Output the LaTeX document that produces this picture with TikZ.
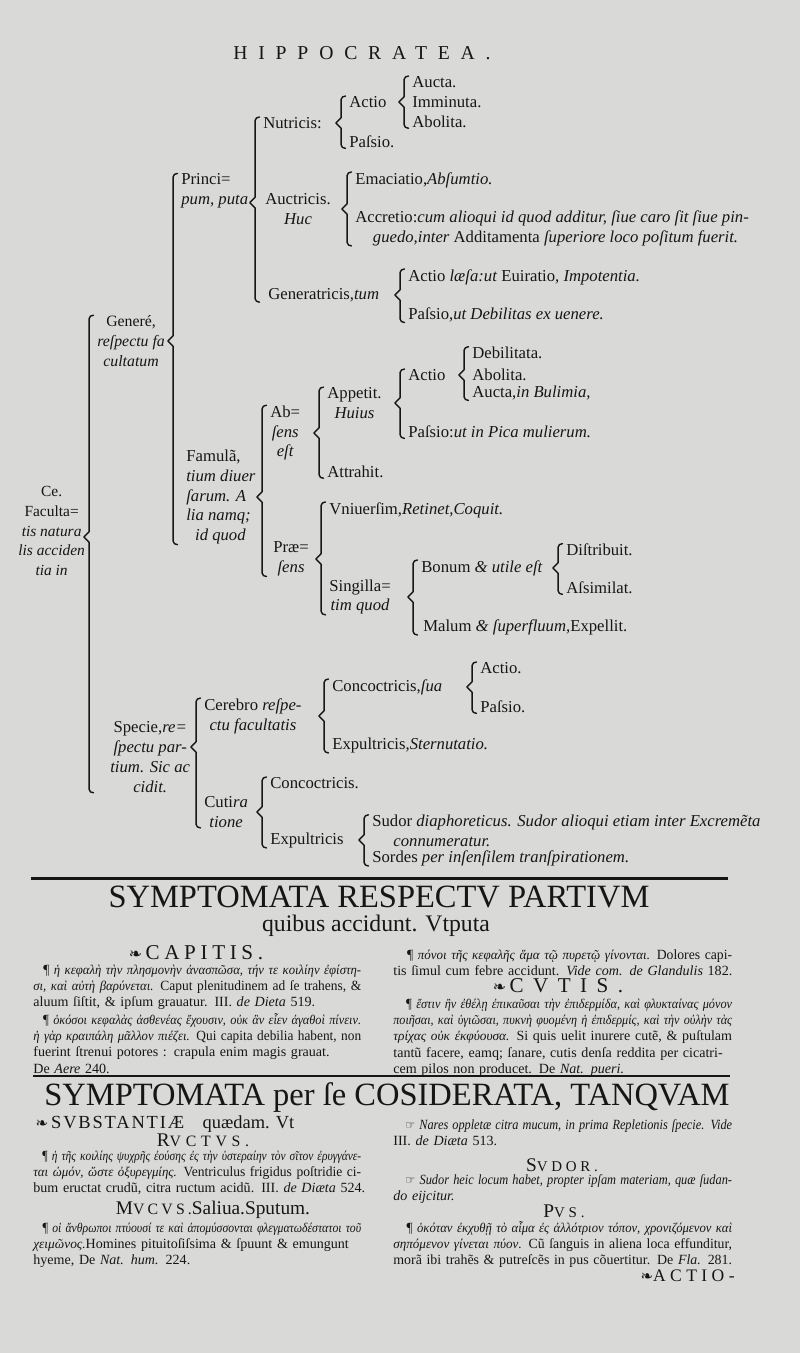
\documentclass[tikz,border=0pt]{standalone}
\usepackage{fontspec}
\usepackage{graphicx}
\setmainfont{Liberation Serif}
\newfontfamily\orn{DejaVu Sans}
\usetikzlibrary{calc}
\definecolor{paper}{HTML}{D9D9D7}
\definecolor{ink}{HTML}{161616}
\newcommand\treefont{\fontsize{9.5}{11.3}\selectfont}
\newcommand\bodyfont{\fontsize{8}{9.3}\selectfont}
\newcommand\gr[1]{{\itshape\fontsize{7.6}{9.3}\selectfont #1}}
\newlength\colL \setlength\colL{186.6pt}
\newlength\colR \setlength\colR{192.8pt}
\newsavebox\jlbox
% one justified line of a column, squeezed when it is too long
\newcommand\jl[2]{\sbox\jlbox{#2}%
  \ifdim\wd\jlbox>#1\resizebox{#1}{\height}{\usebox\jlbox}\else\makebox[#1][s]{#2}\fi}
% bracket: top child, bottom child, point of the cusp
\newcommand\brk[3]{%
  \draw[brk] let \p1=(#1.north west), \p2=(#2.south west), \p3=(#3) in
    (\x1-2pt,\y1) to[out=180,in=90] (\x1-4.5pt,\y1-2pt) -- (\x1-4.5pt,\y3+3pt)
    -- (\x1-7.5pt,\y3) -- (\x1-4.5pt,\y3-3pt) -- (\x1-4.5pt,\y2+2pt)
    to[out=-90,in=180] (\x1-2pt,\y2);}
\tikzset{
  lbl/.style={anchor=west,inner sep=0pt,font=\treefont,text=ink},
  lbls/.style={lbl,align=center},
  lbll/.style={lbl,align=left},
  brk/.style={draw=ink,line width=0.8pt,line join=round,line cap=round},
  para/.style={anchor=base west,inner sep=0pt,font=\bodyfont,text=ink,align=left,text width=400pt},
  head/.style={anchor=center,inner sep=0pt,text=ink},
  rule/.style={draw=ink,line width=#1}
}
\begin{document}
\begin{tikzpicture}[x=0.02cm,y=-0.02cm]
\fill[paper] (0,0) rectangle (800,1353);
\useasboundingbox (0,0) rectangle (800,1353);

\node[head,font=\fontsize{11.2}{13}\selectfont\addfontfeature{LetterSpace=55}] (title) at (362,53) {HIPPOCRATEA.};

% the tree
\node[lbls,font=\fontsize{8.8}{11.3}\selectfont] (root) at (18,531) {Ce.\\Faculta=\\\textit{tis natura}\\\textit{lis acciden}\\\textit{tia in}};
\node[lbls,font=\fontsize{9}{11.3}\selectfont] (gen) at (97,341) {Generé,\\\textit{reſpectu fa}\\\textit{cultatum}};
\node[lbls] (spec) at (110,757) {Specie,\textit{re=}\\\textit{ſpectu par-}\\\textit{tium. Sic ac}\\\textit{cidit.}};
\node[lbll] (princ) at (181,191) {Princi=\\\textit{pum, puta}};
\node[lbll] (famul) at (186,497) {Famulã,\\\textit{tium diuer}\\\textit{ſarum. A}\\\textit{lia namq;}\\\hspace*{5pt}\textit{id quod}};
\node[lbl] (nutr) at (263,123) {Nutricis:};
\node[lbls] (auct) at (265,209) {Auctricis.\\\textit{Huc}};
\node[lbl] (gener) at (268,295) {Generatricis,\textit{tum}};
\node[lbl] (actio1) at (349,102) {Actio};
\node[lbl] (pasio1) at (349,142) {Paſsio.};
\node[lbl] (aucta1) at (412,82) {Aucta.};
\node[lbl] (immin) at (412,102) {Imminuta.};
\node[lbl] (abol1) at (412,122) {Abolita.};
\node[lbl] (emac) at (355,180) {Emaciatio,\textit{Abſumtio.}};
\node[lbll] (accr) at (355,228) {Accretio:\textit{cum alioqui id quod additur, ſiue caro ſit ſiue pin-}\\\hspace*{10pt}\textit{guedo,inter} Additamenta \textit{ſuperiore loco poſitum fuerit.}};
\node[lbl] (lesa) at (408,277) {Actio \textit{læſa:ut} Euiratio, \textit{Impotentia.}};
\node[lbl] (pasio4) at (408,315) {Paſsio,\textit{ut Debilitas ex uenere.}};
\node[lbls] (absens) at (270,433) {Ab=\\\textit{ſens}\\\textit{eſt}};
\node[lbls] (praes) at (273,559) {Præ=\\\textit{ſens}};
\node[lbls] (appet) at (327,403) {Appetit.\\\textit{Huius}};
\node[lbl] (attr) at (327,472) {Attrahit.};
\node[lbl] (actio2) at (408,375) {Actio};
\node[lbl] (pasio2) at (408,432) {Paſsio:\textit{ut in Pica mulierum.}};
\node[lbl] (debil) at (472,353) {Debilitata.};
\node[lbl] (abol2) at (472,375) {Abolita.};
\node[lbl] (aucta2) at (472,393) {Aucta,\textit{in Bulimia,}};
\node[lbl] (vniu) at (329,510) {Vniuerſim,\textit{Retinet,Coquit.}};
\node[lbls] (singil) at (329,597) {Singilla=\\\textit{tim quod}};
\node[lbl] (bonum) at (421,568) {Bonum \textit{\& utile eſt}};
\node[lbl] (malum) at (423,627) {Malum \textit{\& ſuperfluum,}Expellit.};
\node[lbl] (distr) at (566,550) {Diſtribuit.};
\node[lbl] (assim) at (566,588) {Aſsimilat.};
\node[lbls] (cereb) at (204,716) {Cerebro \textit{reſpe-}\\\textit{ctu facultatis}};
\node[lbls] (cutira) at (204,812) {Cuti\textit{ra}\\\textit{tione}};
\node[lbl] (conc1) at (332,687) {Concoctricis,\textit{ſua}};
\node[lbl] (expu1) at (332,745) {Expultricis,\textit{Sternutatio.}};
\node[lbl] (actio3) at (480,668) {Actio.};
\node[lbl] (pasio3) at (480,707) {Paſsio.};
\node[lbl] (conc2) at (270,783) {Concoctricis.};
\node[lbl] (expu2) at (270,840) {Expultricis};
\node[lbll] (sudor) at (372,831) {Sudor \textit{diaphoreticus. Sudor alioqui etiam inter Excremẽta}\\\hspace*{12pt}\textit{connumeratur.}};
\node[lbl] (sordes) at (372,858) {Sordes \textit{per inſenſilem tranſpirationem.}};

\brk{aucta1}{abol1}{actio1.east}
\brk{actio1}{pasio1}{nutr.east}
\brk{emac}{accr}{auct.east}
\brk{lesa}{pasio4}{gener.east}
\brk{nutr}{gener}{$(princ.south east)+(0,-6)$}
\brk{debil}{aucta2}{actio2.east}
\brk{actio2}{pasio2}{appet.east}
\brk{appet}{attr}{absens.east}
\brk{distr}{assim}{bonum.east}
\brk{bonum}{malum}{singil.east}
\brk{vniu}{singil}{praes.east}
\brk{absens}{praes}{famul.east}
\brk{princ}{famul}{gen.east}
\brk{actio3}{pasio3}{conc1.east}
\brk{conc1}{expu1}{cereb.east}
\brk{conc2}{expu2}{cutira.east}
\brk{sudor}{sordes}{expu2.east}
\brk{cereb}{cutira}{$(spec.east)+(0,-10)$}
\brk{gen}{spec}{$(root.east)+(0,6)$}

% first section of symptoms
\draw[rule=1.7pt] (31,878) -- (728,878);
\node[head,font=\fontsize{18.5}{20}\selectfont] (h1) at (379,897) {SYMPTOMATA RESPECTV PARTIVM};
\node[head,font=\fontsize{13.5}{15}\selectfont] (h1b) at (376,926) {quibus accidunt. Vtputa};
\node[head,font=\fontsize{12}{14}\selectfont] (capitis) at (196,953) {{\orn\fontsize{9}{10}\selectfont ❧}\,{\addfontfeature{LetterSpace=22}CAPITIS.}};
\node[para] (capP1) at (33,974) {%
\jl\colL{\hspace*{6pt}¶ \gr{ἡ κεφαλὴ τὴν πλησμονὴν ἀνασπῶσα, τήν τε κοιλίην ἐφίστη-}}\\
\jl\colL{\gr{σι, καὶ αὐτὴ βαρύνεται.} Caput plenitudinem ad ſe trahens, \&}\\
aluum ſiſtit, \& ipſum grauatur. III. \textit{de Dieta} 519.};
\node[para] (capP2) at (33,1024) {%
\jl\colL{\hspace*{6pt}¶ \gr{ὁκόσοι κεφαλὰς ἀσθενέας ἔχουσιν, οὐκ ἂν εἶεν ἀγαθοὶ πίνειν.}}\\
\jl\colL{\gr{ἡ γὰρ κραιπάλη μᾶλλον πιέζει.} Qui capita debilia habent, non}\\
fuerint ſtrenui potores : crapula enim magis grauat.\\
De \textit{Aere} 240.};
\node[para] (capP3) at (393,959) {%
\jl\colR{\hspace*{8pt}¶ \gr{πόνοι τῆς κεφαλῆς ἅμα τῷ πυρετῷ γίνονται.} Dolores capi-}\\
tis ſimul cum febre accidunt. \textit{Vide com. de Glandulis} 182.};
\node[head,font=\fontsize{12}{14}\selectfont] (cutis) at (558,986) {{\orn\fontsize{9}{10}\selectfont ❧}\,{\addfontfeature{LetterSpace=45}CVTIS.}};
\node[para] (cutP) at (393,1008) {%
\jl\colR{\hspace*{8pt}¶ \gr{ἔστιν ἢν ἐθέλῃ ἐπικαῦσαι τὴν ἐπιδερμίδα, καὶ φλυκταίνας μόνον}}\\
\jl\colR{\gr{ποιῆσαι, καὶ ὑγιῶσαι, πυκνὴ φυομένη ἡ ἐπιδερμίς, καὶ τὴν οὐλὴν τὰς}}\\
\jl\colR{\gr{τρίχας οὐκ ἐκφύουσα.} Si quis uelit inurere cutẽ, \& puſtulam}\\
\jl\colR{tantũ facere, eamq; ſanare, cutis denſa reddita per cicatri-}\\
cem pilos non producet. De \textit{Nat. pueri.}};

% second section of symptoms
\draw[rule=1.2pt] (33,1076) -- (730,1076);
\node[head,font=\fontsize{18.5}{20}\selectfont] (h2) at (387,1098) {SYMPTOMATA per ſe COSIDERATA, TANQVAM};
\node[head,font=\fontsize{10.5}{12}\selectfont] (subst) at (165,1124) {{\orn\fontsize{8.5}{10}\selectfont ❧}\,{\addfontfeature{LetterSpace=10}SVBSTANTIÆ}\quad quædam. Vt};
\node[head,font=\fontsize{11}{12}\selectfont\addfontfeature{LetterSpace=30}] (ructus) at (203,1140) {R{\fontsize{9}{11}\selectfont VCTVS.}};
\node[para] (ructP) at (33,1160) {%
\jl\colL{\hspace*{6pt}¶ \gr{ἡ τῆς κοιλίης ψυχρῆς ἐούσης ἐς τὴν ὑστεραίην τὸν σῖτον ἐρυγγάνε-}}\\
\jl\colL{\gr{ται ὠμόν, ὥστε ὀξυρεγμίης.} Ventriculus frigidus poſtridie ci-}\\
bum eructat crudũ, citra ructum acidũ. III. \textit{de Diæta} 524.};
\node[head,font=\fontsize{11}{12}\selectfont] (mucus) at (213,1210) {{\addfontfeature{LetterSpace=20}M{\fontsize{9}{11}\selectfont VCVS.}}Saliua.Sputum.};
\node[para] (mucP) at (33,1232) {%
\jl\colL{\hspace*{6pt}¶ \gr{οἱ ἄνθρωποι πτύουσί τε καὶ ἀπομύσσονται φλεγματωδέστατοι τοῦ}}\\
\jl\colL{\gr{χειμῶνος.}Homines pituitoſiſsima \& ſpuunt \& emungunt}\\
hyeme, De \textit{Nat. hum.} 224.};
\node[para] (naresP) at (393,1129) {%
\jl\colR{\hspace*{8pt}{\orn\fontsize{7}{9}\selectfont ☞} \textit{Nares oppletæ citra mucum, in prima Repletionis ſpecie. Vide}}\\
III. \textit{de Diæta} 513.};
\node[head,font=\fontsize{11}{12}\selectfont\addfontfeature{LetterSpace=25}] (sudorH) at (562,1165) {S{\fontsize{8.5}{11}\selectfont VDOR.}};
\node[para] (sudorP) at (393,1184) {%
\jl\colR{\hspace*{8pt}{\orn\fontsize{7}{9}\selectfont ☞} \textit{Sudor heic locum habet, propter ipſam materiam, quæ ſudan-}}\\
\textit{do eijcitur.}};
\node[head,font=\fontsize{11}{12}\selectfont\addfontfeature{LetterSpace=25}] (pusH) at (564,1211) {P{\fontsize{8.5}{11}\selectfont VS.}};
\node[para] (pusP) at (393,1232) {%
\jl\colR{\hspace*{8pt}¶ \gr{ὁκόταν ἐκχυθῇ τὸ αἷμα ἐς ἀλλότριον τόπον, χρονιζόμενον καὶ}}\\
\jl\colR{\gr{σηπόμενον γίνεται πύον.} Cũ ſanguis in aliena loca effunditur,}\\
\jl\colR{morã ibi trahẽs \& putreſcẽs in pus cõuertitur. De \textit{Fla.} 281.}};
\node[anchor=east,inner sep=0pt,text=ink,font=\fontsize{10}{12}\selectfont] (actio) at (735,1276) {{\orn\fontsize{8.5}{10}\selectfont ❧}{\addfontfeature{LetterSpace=25}ACTIO-}};
\end{tikzpicture}
\end{document}
